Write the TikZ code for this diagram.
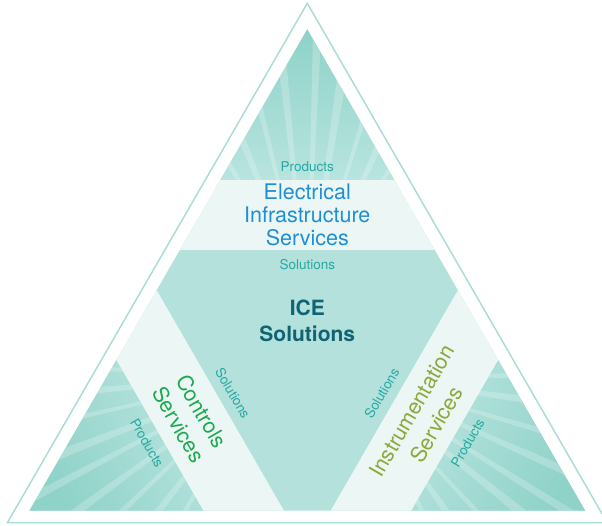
\documentclass[tikz,border=0pt]{standalone}
\usepackage{fontspec}
\setmainfont{TeX Gyre Heros}
\usetikzlibrary{calc}
\definecolor{outline}{HTML}{A6DCD6}
\definecolor{central}{HTML}{B4E1DC}
\definecolor{band}{HTML}{ECF7F5}
\definecolor{cornerdark}{HTML}{8ED2C8}
\definecolor{cornerlight}{HTML}{B8E4DF}
\definecolor{labelteal}{HTML}{26A9A3}
\definecolor{eisblue}{HTML}{1E8FD5}
\definecolor{icedark}{HTML}{0F6473}
\definecolor{csgreen}{HTML}{1DAA50}
\definecolor{isolive}{HTML}{8DA839}
\begin{document}
\begin{tikzpicture}[x=1pt,y=-1pt,
  smalllbl/.style={font=\fontsize{13.5}{14}\selectfont, text=labelteal, inner sep=0pt, anchor=base},
  bandlbl/.style={font=\fontsize{21.5}{23}\selectfont, inner sep=0pt, anchor=base},
  icelbl/.style={font=\fontsize{21}{24}\selectfont\bfseries, text=icedark, inner sep=0pt, anchor=base},
  ray/.style={white, opacity=0.22}]
\useasboundingbox (0,0) rectangle (602,525);
\clip (0,0) rectangle (602,525);
\fill[white] (0,0) rectangle (602,525);
% outer outline
\coordinate (OA) at (307.3,3.3);
\coordinate (OL) at (7.4,522.7);
\coordinate (OR) at (607.2,522.7);
\draw[outline, line width=1.4pt, line join=miter] (OA) -- (OL) -- (OR) -- cycle;
% inner triangle
\coordinate (A) at (307.3,29.3);
\coordinate (L) at (29.4,510.7);
\coordinate (R) at (585.2,510.7);
\coordinate (C) at (307.3,350.2);
\fill[central] (A) -- (L) -- (R) -- cycle;
% bands
\fill[band] ($(A)!0.3127!(L)$) -- ($(A)!0.3127!(R)$) -- ($(A)!0.458!(R)$) -- ($(A)!0.458!(L)$) -- cycle;
\fill[band] ($(L)!0.3127!(A)$) -- ($(L)!0.3127!(R)$) -- ($(L)!0.458!(R)$) -- ($(L)!0.458!(A)$) -- cycle;
\fill[band] ($(R)!0.3127!(A)$) -- ($(R)!0.3127!(L)$) -- ($(R)!0.458!(L)$) -- ($(R)!0.458!(A)$) -- cycle;
% corners
\shade[top color=cornerdark, bottom color=cornerlight] (A) -- ($(A)!0.3127!(L)$) -- ($(A)!0.3127!(R)$) -- cycle;
\shade[top color=cornerlight, bottom color=cornerdark, shading angle=-60] (L) -- ($(L)!0.3127!(A)$) -- ($(L)!0.3127!(R)$) -- cycle;
\shade[top color=cornerlight, bottom color=cornerdark, shading angle=60] (R) -- ($(R)!0.3127!(A)$) -- ($(R)!0.3127!(L)$) -- cycle;
% rays
\foreach \V/\P/\Q in {A/L/R, L/A/R, R/A/L}{
  \begin{scope}
    \clip (\V) -- ($(\V)!0.3127!(\P)$) -- ($(\V)!0.3127!(\Q)$) -- cycle;
    \coordinate (F) at ($(C)!0.156!(\V)$);
    \foreach \a/\w in {-33/1.6, -26/2.2, -18/1.5, -10/2.4, -3/1.8, 5/2.0, 13/1.6, 21/2.3, 29/1.7}{
      \fill[ray] (F) -- ($(F)!1.6!\a:(\V)$) -- ($(F)!1.6!{\a+\w}:(\V)$) -- cycle;
    }
  \end{scope}
}
% top texts
\node[smalllbl] (tprod) at (307.3,171.7) {Products};
\node[bandlbl, text=eisblue] (eis1) at (307.3,199.3) {Electrical};
\node[bandlbl, text=eisblue] (eis2) at (307.3,222.7) {Infrastructure};
\node[bandlbl, text=eisblue] (eis3) at (307.3,245.7) {Services};
\node[smalllbl] (tsol) at (307.3,269) {Solutions};
% center
\node[icelbl] (ice1) at (307.3,315) {ICE};
\node[icelbl] (ice2) at (307.3,341.7) {Solutions};
% left texts
\node[smalllbl, rotate=-60] (lprod) at (142.8,445.2) {Products};
\node[smalllbl, rotate=-60] (lsol) at (228.5,395.7) {Solutions};
\node[bandlbl, text=csgreen, rotate=-60] (cs1) at (195.2,415.0) {Controls};
\node[bandlbl, text=csgreen, rotate=-60] (cs2) at (171.8,428.5) {Services};
% right texts
\node[smalllbl, rotate=60] (rprod) at (471.8,445.2) {Products};
\node[smalllbl, rotate=60] (rsol) at (386.1,395.7) {Solutions};
\node[bandlbl, text=isolive, rotate=60] (is1) at (418.9,414.6) {Instrumentation};
\node[bandlbl, text=isolive, rotate=60] (is2) at (442.8,428.5) {Services};
\end{tikzpicture}
\end{document}
